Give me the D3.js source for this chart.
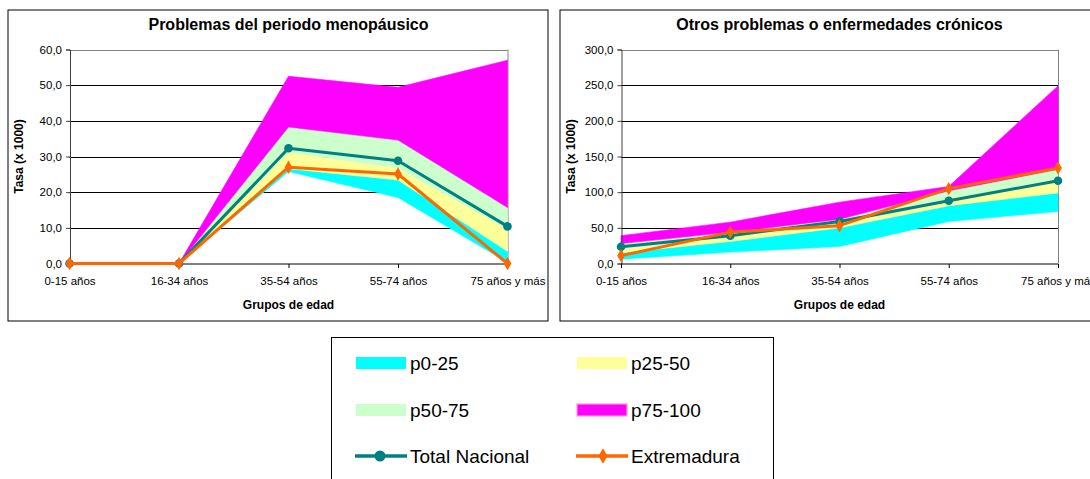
<!DOCTYPE html>
<html>
<head>
<meta charset="utf-8">
<script src="https://cdn.jsdelivr.net/npm/d3@7"></script>
<style>
  html, body { margin: 0; padding: 0; background: #fff; overflow: hidden; }
  svg { display: block; font-family: "Liberation Sans", Arial, sans-serif; }
</style>
</head>
<body>
<svg id="chart" width="1090" height="479"></svg>
<script>
// Age groups shared by both panels
const ageGroups = ["0-15 años", "16-34 años", "35-54 años", "55-74 años", "75 años y más"];

// Problemas del periodo menopáusico: percentile bounds of the regional rates
const menoMin  = [0, 0, 25.8, 18.5, 0.3];
const menoP25  = [0, 0, 26.6, 23.4, 3.4];
const menoP50  = [0, 0, 31.2, 26.8, 9.6];
const menoP75  = [0, 0, 38.3, 34.6, 15.7];
const menoMax  = [0, 0, 52.5, 49.4, 57.0];
const menoTotal = [0, 0, 32.3, 28.8, 10.4];
const menoExtremadura = [0, 0, 27.0, 25.1, 0];
const menoTicks = [0, 10, 20, 30, 40, 50, 60];

// Otros problemas o enfermedades crónicos
const cronMin  = [6, 16, 24, 59, 73];
const cronP25  = [15, 31, 50, 81, 99];
const cronP50  = [20, 38, 55, 87, 120];
const cronP75  = [28, 44, 62, 102, 132];
const cronMax  = [39, 58, 86, 108, 249];
const cronTotal = [23.5, 39, 59, 88, 116];
const cronExtremadura = [11, 44, 53, 105, 134];
const cronTicks = [0, 50, 100, 150, 200, 250, 300];

// Legend labels and band colours
const bandNames = ["p0-25", "p25-50", "p50-75", "p75-100"];
const bandColors = ["#00FFFF", "#FFFF99", "#CCFFCC", "#FF00FF"];
const seriesNames = ["Total Nacional", "Extremadura"];
const seriesColors = ["#008080", "#FF6600"];

const esLocale = d3.formatLocale({ decimal: ",", thousands: ".", grouping: [3], currency: ["", " €"] });
const fmt = esLocale.format(".1f");

const svg = d3.select("#chart");

function drawPanel(opts) {
  const g = svg.append("g");
  const { px, py, pw, ph, left, right, top, bottom } = opts;

  // panel frame
  g.append("rect")
    .attr("x", px + 0.5).attr("y", py + 0.5)
    .attr("width", pw).attr("height", ph)
    .attr("fill", "#fff").attr("stroke", "#000").attr("stroke-width", 1);

  const x = d3.scalePoint().domain(ageGroups).range([left, right]);
  const y = d3.scaleLinear().domain([0, opts.yMax]).range([bottom, top]);

  // gridlines
  g.append("g").selectAll("line").data(opts.ticks.slice(1)).join("line")
    .attr("x1", left).attr("x2", right)
    .attr("y1", d => Math.round(y(d)) + 0.5).attr("y2", d => Math.round(y(d)) + 0.5)
    .attr("stroke", d => d === opts.yMax ? "#808080" : "#000")
    .attr("stroke-width", 1);

  // plot-area right edge
  g.append("line")
    .attr("x1", right + 0.5).attr("x2", right + 0.5)
    .attr("y1", top).attr("y2", bottom)
    .attr("stroke", "#808080");

  // percentile bands
  const bounds = opts.bounds;
  const rows = ageGroups.map((a, i) => ({ a, i }));
  for (let b = 0; b < 4; b++) {
    const lo = bounds[b], hi = bounds[b + 1];
    const area = d3.area()
      .x(d => x(d.a))
      .y0(d => y(lo[d.i]))
      .y1(d => y(hi[d.i]));
    g.append("path").datum(rows)
      .attr("d", area)
      .attr("fill", bandColors[b])
      .attr("stroke", bandColors[b])
      .attr("stroke-width", 0.6);
  }

  // y axis
  const yAxis = d3.axisLeft(y).tickValues(opts.ticks).tickFormat(fmt).tickSize(4).tickPadding(4);
  const ya = g.append("g").attr("transform", `translate(${left + 0.5},0)`).call(yAxis);
  ya.select(".domain").attr("stroke", "#404040");
  ya.selectAll(".tick line").attr("stroke", "#404040");
  ya.selectAll("text").attr("font-size", 11.5).attr("fill", "#000")
    .attr("font-family", "Liberation Sans, Arial, sans-serif");

  // x axis
  const xAxis = d3.axisBottom(x).tickSize(4).tickPadding(9);
  const xa = g.append("g").attr("transform", `translate(0,${bottom + 0.5})`).call(xAxis);
  xa.select(".domain").attr("stroke", "#000").attr("d", `M${left},0H${right}`);
  xa.selectAll(".tick line").attr("stroke", "#000");
  xa.selectAll("text").attr("font-size", 11.5).attr("fill", "#000")
    .attr("font-family", "Liberation Sans, Arial, sans-serif");

  // national and regional lines
  const lineFor = vals => d3.line().x(d => x(d.a)).y(d => y(vals[d.i]));
  g.append("path").datum(rows)
    .attr("d", lineFor(opts.total))
    .attr("fill", "none").attr("stroke", seriesColors[0]).attr("stroke-width", 3)
    .attr("stroke-linejoin", "round");
  g.append("g").selectAll("circle").data(rows).join("circle")
    .attr("cx", d => x(d.a)).attr("cy", d => y(opts.total[d.i]))
    .attr("r", 4.3).attr("fill", seriesColors[0]);

  g.append("path").datum(rows)
    .attr("d", lineFor(opts.extremadura))
    .attr("fill", "none").attr("stroke", seriesColors[1]).attr("stroke-width", 3)
    .attr("stroke-linejoin", "round");
  const diamond = d3.symbol().type(d3.symbolDiamond).size(52);
  g.append("g").selectAll("path").data(rows).join("path")
    .attr("d", diamond)
    .attr("transform", d => `translate(${x(d.a)},${y(opts.extremadura[d.i])})`)
    .attr("fill", seriesColors[1]);

  // titles
  const cx = (left + right) / 2;
  g.append("text").attr("x", cx).attr("y", py + 20)
    .attr("text-anchor", "middle").attr("font-size", 16).attr("font-weight", "bold")
    .text(opts.title);
  g.append("text").attr("x", cx).attr("y", bottom + 45)
    .attr("text-anchor", "middle").attr("font-size", 12).attr("font-weight", "bold")
    .text("Grupos de edad");
  g.append("text")
    .attr("transform", `translate(${px + 15.5},${(top + bottom) / 2}) rotate(-90)`)
    .attr("text-anchor", "middle").attr("font-size", 12).attr("font-weight", "bold")
    .text("Tasa (x 1000)");
}

drawPanel({
  px: 7.5, py: 9.5, pw: 540, ph: 311,
  left: 69.5, right: 507.5, top: 49.5, bottom: 263.5,
  yMax: 60, ticks: menoTicks,
  bounds: [menoMin, menoP25, menoP50, menoP75, menoMax],
  total: menoTotal, extremadura: menoExtremadura,
  title: "Problemas del periodo menopáusico"
});

drawPanel({
  px: 559.5, py: 9.5, pw: 540, ph: 311,
  left: 621, right: 1058, top: 49.5, bottom: 263.5,
  yMax: 300, ticks: cronTicks,
  bounds: [cronMin, cronP25, cronP50, cronP75, cronMax],
  total: cronTotal, extremadura: cronExtremadura,
  title: "Otros problemas o enfermedades crónicos"
});

// legend
const lg = svg.append("g");
lg.append("rect").attr("x", 331.5).attr("y", 337.5).attr("width", 442).attr("height", 160)
  .attr("fill", "#fff").attr("stroke", "#000").attr("stroke-width", 1);

const colX = [356, 577];
const rowY = [363, 410, 456];
bandNames.forEach((name, i) => {
  const cx = colX[i % 2], cy = rowY[Math.floor(i / 2)];
  lg.append("rect").attr("x", cx).attr("y", cy - 6).attr("width", 50).attr("height", 12)
    .attr("fill", bandColors[i])
    .attr("stroke", i === 3 ? "#FF99CC" : "none").attr("stroke-width", 1.2);
  lg.append("text").attr("x", cx + 54).attr("y", cy + 7)
    .attr("font-size", 19).attr("fill", "#000").text(name);
});
seriesNames.forEach((name, i) => {
  const cx = colX[i], cy = rowY[2];
  lg.append("line").attr("x1", cx - 1).attr("x2", cx + 51).attr("y1", cy).attr("y2", cy)
    .attr("stroke", seriesColors[i]).attr("stroke-width", 3.5);
  if (i === 0) {
    lg.append("circle").attr("cx", cx + 24).attr("cy", cy).attr("r", 5.5).attr("fill", seriesColors[i]);
  } else {
    lg.append("path").attr("d", d3.symbol().type(d3.symbolDiamond).size(70))
      .attr("transform", `translate(${cx + 26},${cy})`).attr("fill", seriesColors[i]);
  }
  lg.append("text").attr("x", cx + 54).attr("y", cy + 7)
    .attr("font-size", 19).attr("fill", "#000").text(name);
});
</script>
</body>
</html>
